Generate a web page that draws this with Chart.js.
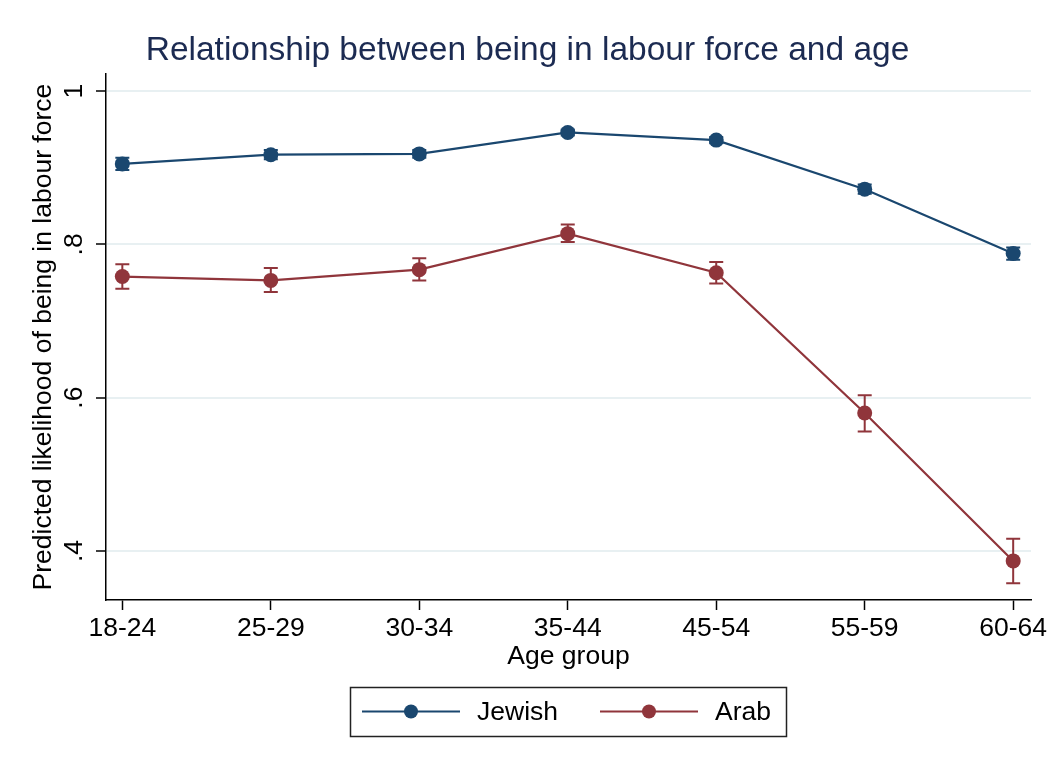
<!DOCTYPE html>
<html>
<head>
<meta charset="utf-8">
<title>Labour force and age</title>
<script src="https://cdn.jsdelivr.net/npm/chart.js@4"></script>
<style>
    body { margin: 0; background: #ffffff; }
    canvas { display: block; }
</style>
</head>
<body>
<canvas id="canvas" width="1055" height="771"></canvas>
<script>
    var ageGroups = ['18-24', '25-29', '30-34', '35-44', '45-54', '55-59', '60-64'];

    var jewish = [0.905, 0.917, 0.918, 0.946, 0.936, 0.872, 0.788];
    var jewishLow = [0.897, 0.911, 0.913, 0.942, 0.932, 0.866, 0.780];
    var jewishHigh = [0.913, 0.923, 0.923, 0.950, 0.940, 0.878, 0.796];

    var arab = [0.758, 0.753, 0.767, 0.814, 0.763, 0.580, 0.387];
    var arabLow = [0.742, 0.738, 0.753, 0.803, 0.749, 0.556, 0.358];
    var arabHigh = [0.774, 0.769, 0.782, 0.826, 0.777, 0.603, 0.416];

    var yTicks = [0.4, 0.6, 0.8, 1];
    var yTickLabels = ['.4', '.6', '.8', '1'];

    var navy = '#1a476f';
    var maroon = '#90353b';
    var font = "'Liberation Sans', Arial, Helvetica, sans-serif";
    var textSize = 26.5;

    var toPoints = function(values) {
        return values.map(function(v, i) { return {x: i, y: v}; });
    };

    // draws the confidence interval whiskers under the lines
    var errorBars = {
        id: 'errorBars',
        beforeDatasetsDraw: function(chart) {
            var ctx = chart.ctx;
            var xs = chart.scales.x;
            var ys = chart.scales.y;
            chart.data.datasets.forEach(function(ds) {
                ctx.save();
                ctx.strokeStyle = ds.borderColor;
                ctx.lineWidth = 2;
                for (var i = 0; i < ds.low.length; i++) {
                    var x = xs.getPixelForValue(i);
                    var y1 = ys.getPixelForValue(ds.low[i]);
                    var y2 = ys.getPixelForValue(ds.high[i]);
                    ctx.beginPath();
                    ctx.moveTo(x, y1); ctx.lineTo(x, y2);
                    ctx.moveTo(x - 7, y1); ctx.lineTo(x + 7, y1);
                    ctx.moveTo(x - 7, y2); ctx.lineTo(x + 7, y2);
                    ctx.stroke();
                }
                ctx.restore();
            });
        }
    };

    // Stata style boxed legend below the plot
    var boxLegend = {
        id: 'boxLegend',
        afterDraw: function(chart) {
            var ctx = chart.ctx;
            var top = 687, left = 350, w = 436, h = 49;
            var cy = top + h / 2;
            ctx.save();
            ctx.strokeStyle = '#222222';
            ctx.lineWidth = 1.5;
            ctx.strokeRect(left + 0.5, top + 0.5, w, h);
            ctx.font = textSize + 'px ' + font;
            ctx.textBaseline = 'middle';
            ctx.fillStyle = '#000000';
            var x0 = left + 12;
            chart.data.datasets.forEach(function(ds, k) {
                var sx = x0 + k * 238;
                ctx.strokeStyle = ds.borderColor;
                ctx.lineWidth = 2;
                ctx.beginPath();
                ctx.moveTo(sx, cy); ctx.lineTo(sx + 98, cy);
                ctx.stroke();
                ctx.fillStyle = ds.borderColor;
                ctx.beginPath();
                ctx.arc(sx + 49, cy, 7, 0, Math.PI * 2);
                ctx.fill();
                ctx.fillStyle = '#000000';
                ctx.fillText(ds.label, sx + 115, cy + 1);
            });
            ctx.restore();
        }
    };

    var chartData = {
        datasets: [{
            label: 'Jewish',
            data: toPoints(jewish),
            low: jewishLow,
            high: jewishHigh,
            borderColor: navy,
            backgroundColor: navy,
            pointBackgroundColor: navy,
            borderWidth: 2.2,
            pointRadius: 7.5,
            pointBorderWidth: 0,
            tension: 0
        }, {
            label: 'Arab',
            data: toPoints(arab),
            low: arabLow,
            high: arabHigh,
            borderColor: maroon,
            backgroundColor: maroon,
            pointBackgroundColor: maroon,
            borderWidth: 2.2,
            pointRadius: 7.5,
            pointBorderWidth: 0,
            tension: 0
        }]
    };

    window.onload = function() {
        var ctx = document.getElementById('canvas').getContext('2d');
        new Chart(ctx, {
            type: 'line',
            data: chartData,
            plugins: [errorBars, boxLegend],
            options: {
                responsive: false,
                animation: false,
                layout: { padding: { left: 0, right: 0, top: 0, bottom: 86 } },
                plugins: {
                    legend: { display: false },
                    tooltip: { enabled: false },
                    title: {
                        display: true,
                        text: 'Relationship between being in labour force and age',
                        color: '#1c2b52',
                        font: { family: font, size: 33.5, weight: 'normal' },
                        padding: { top: 31, bottom: 3 }
                    }
                },
                scales: {
                    x: {
                        type: 'linear',
                        min: -0.11,
                        max: 6.12,
                        afterBuildTicks: function(s) {
                            s.ticks = ageGroups.map(function(a, i) { return {value: i}; });
                        },
                        afterFit: function(s) { s.height = 85; },
                        ticks: {
                            color: '#000000',
                            font: { family: font, size: textSize },
                            padding: 3,
                            maxRotation: 0,
                            callback: function(v) { return ageGroups[v]; }
                        },
                        grid: { drawOnChartArea: false, tickLength: 10, tickColor: '#000000', tickWidth: 1.5 },
                        border: { color: '#000000', width: 1.5 },
                        title: {
                            display: true,
                            text: 'Age group',
                            color: '#000000',
                            font: { family: font, size: textSize },
                            padding: { top: 0, bottom: 12 }
                        }
                    },
                    y: {
                        min: 0.336,
                        max: 1.022,
                        afterBuildTicks: function(s) {
                            s.ticks = yTicks.map(function(v) { return {value: v}; });
                        },
                        afterFit: function(s) { s.width = 106; },
                        ticks: {
                            color: '#000000',
                            font: { family: font, size: textSize },
                            padding: 10,
                            minRotation: 90,
                            maxRotation: 90,
                            crossAlign: 'center',
                            callback: function(v) { return yTickLabels[yTicks.indexOf(v)]; }
                        },
                        grid: { color: '#e8f0f2', lineWidth: 2, tickLength: 10, tickColor: '#000000', tickWidth: 1.5 },
                        border: { color: '#000000', width: 1.5 },
                        title: {
                            display: true,
                            text: 'Predicted likelihood of being in labour force',
                            color: '#000000',
                            font: { family: font, size: textSize },
                            padding: { top: 28, bottom: 0 }
                        }
                    },
                    pad: {
                        position: 'right',
                        display: true,
                        afterFit: function(s) { s.width = 24; },
                        ticks: { display: false },
                        grid: { display: false, drawTicks: false },
                        border: { display: false }
                    }
                }
            }
        });
    };
</script>
</body>
</html>
